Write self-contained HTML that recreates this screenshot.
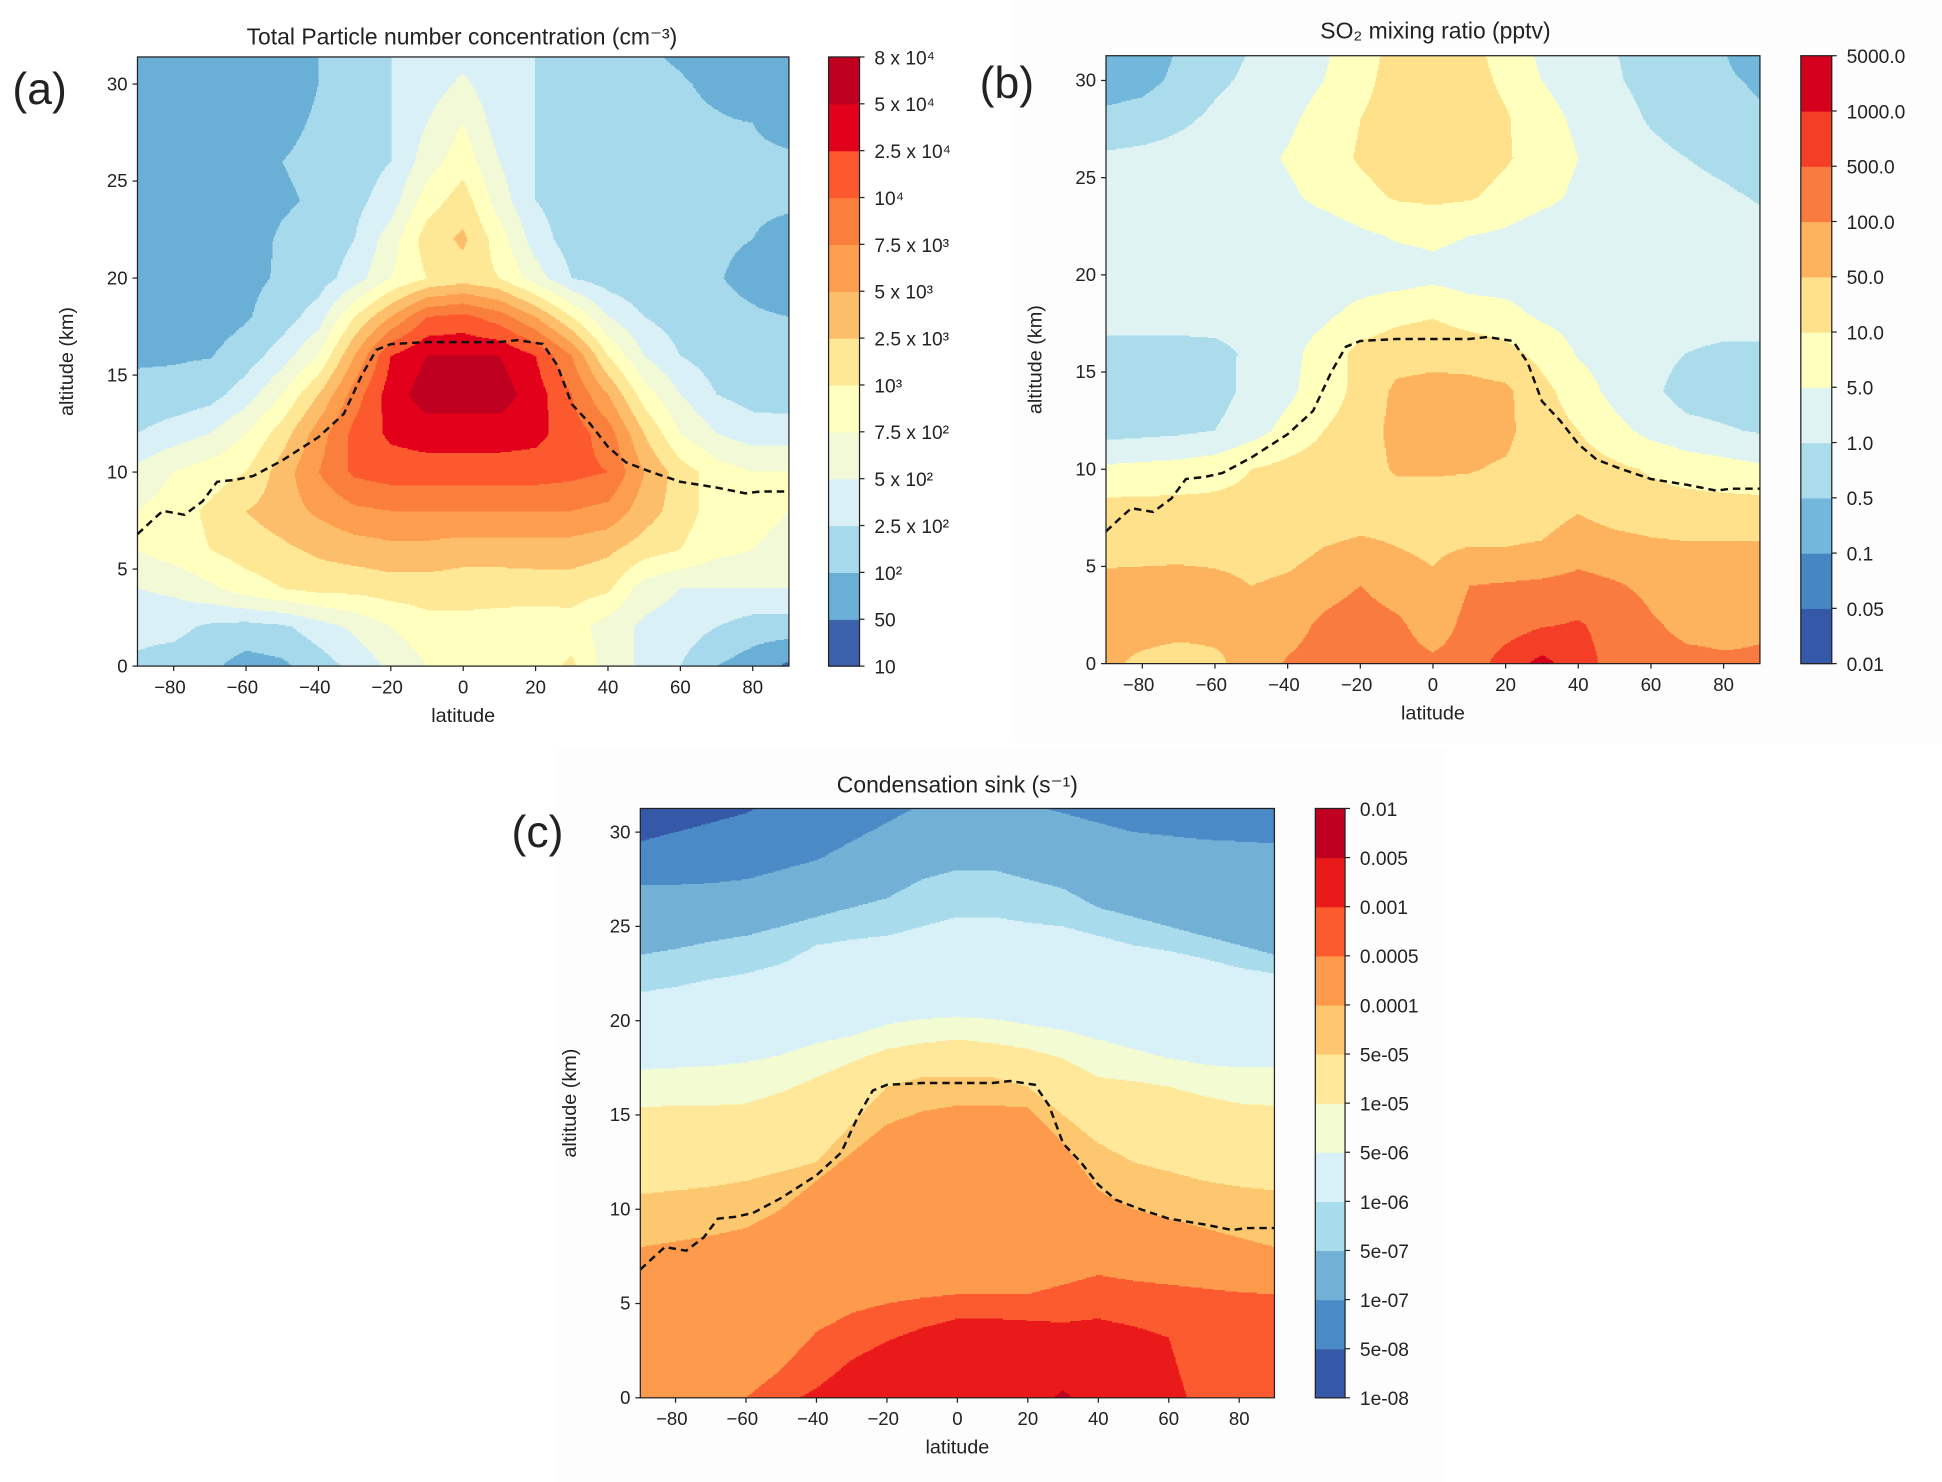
<!DOCTYPE html>
<html><head><meta charset="utf-8"><title>Aerosol latitude-altitude panels</title>
<style>
html,body{margin:0;padding:0;background:#fff;}
svg{display:block;}
text{font-family:"Liberation Sans","DejaVu Sans",sans-serif;fill:#222;}
</style></head>
<body>
<svg id="fig" width="1942" height="1482" viewBox="0 0 1568 1197" preserveAspectRatio="none" xmlns="http://www.w3.org/2000/svg">
<rect x="0" y="0" width="1568" height="1197" fill="#fff"/>
<rect x="815" y="0" width="753" height="600" fill="#fdfdfd"/>
<rect x="448" y="605" width="720" height="592" fill="#fdfdfd"/>
<g id="pa"></g>
<g id="pb"></g>
<g id="pc"></g>
</svg>
<script>
const NS = "http://www.w3.org/2000/svg";
// ---- shared axes data ----
const lats = [-90,-80,-70,-60,-50,-40,-30,-20,-10,0,10,20,30,40,50,60,70,80,90];
const alts = [0,2,4,6,8,10,12,14,16,18,20,22,24,26,28,30,32];
const xTicks = [-80,-60,-40,-20,0,20,40,60,80];
const yTicks = [0,5,10,15,20,25,30];
// ---- panel a: band index (continuous) per grid point, rows = alts ascending ----
const gridA = [
[2.8,2.5,2.2,1.6,1.8,2.5,3.3,4.2,5,5.3,5.4,5.5,6.2,4.5,3.8,3,2,1.5,0.8],
[3.3,3.3,2.8,2.6,2.8,3.5,4.2,5,5.6,5.7,5.6,5.4,5.5,4.5,3.8,3.5,3,2.5,2.5],
[4,4.2,4.8,5.5,6,6.3,6.3,6.5,6.5,6.4,6.4,6.5,6.5,6.2,4.5,4,4,4,4],
[5,5.5,6,6.5,6.8,7.2,7.5,7.7,7.7,7.5,7.5,7.5,7.5,7.2,6.5,6,5.3,5,4.8],
[5,5.5,6.2,7,7.5,8.2,8.8,9,9,9,9,9,9,8.7,7.5,6.5,5.5,5.2,5],
[4.3,5,5.5,6,7.5,9,10.2,10.5,10.5,10.5,10.5,10.5,10.3,10,8,6.5,5.5,5,5],
[3,3.5,4,5,6.5,8.5,10.3,11.2,11.5,11.5,11.5,11.3,10.5,9.5,7,5,4,3.5,3.5],
[2.2,2.3,2.6,3.5,5,7,9.5,11.5,12.5,12.5,12.5,11.5,10,8,5.5,4,3,2.6,2.5],
[1.9,1.9,1.95,2.5,3.5,5,8,11,12,12,12,11,9,6,4,3,2.5,2.2,2.2],
[1.4,1.4,1.5,1.9,2.5,3.5,6,8,10,10.3,9.5,8,6,4,3,2.5,2.2,2.1,2],
[1.3,1.3,1.4,1.8,2.1,2.5,3.5,5,6,6.5,6,4.5,3,2.5,2.2,2.1,2.05,1.8,1.5],
[1.3,1.3,1.4,1.7,2.1,2.3,3,4.5,6.5,7.2,5.5,3.5,2.5,2.2,2.1,2.1,2.1,2,1.8],
[1.3,1.3,1.4,1.6,1.9,2.1,2.7,3.5,5.5,6.5,4.5,3,2.5,2.2,2.1,2.1,2.1,2.1,2.1],
[1.3,1.3,1.4,1.6,2,2.2,2.5,3,4.5,5.6,4,3,2.5,2.2,2.1,2.1,2.1,2.1,2.1],
[1.3,1.3,1.4,1.5,1.8,2.1,2.3,3,4,5,3.5,3,2.3,2.2,2.1,2.1,2.05,2,1.8],
[1.2,1.3,1.3,1.4,1.6,2,2.2,3,3.5,4.2,3.3,3,2.2,2.1,2.1,2.05,1.9,1.7,1.5],
[0.95,1.1,1.2,1.3,1.5,2,2.1,3,3.2,3.5,3.2,3,2.1,2.1,2.05,1.9,1.6,1.4,1.2]
];
const levelsA = ["10","50","10²","2.5 x 10²","5 x 10²","7.5 x 10²","10³","2.5 x 10³","5 x 10³","7.5 x 10³","10⁴","2.5 x 10⁴","5 x 10⁴","8 x 10⁴"];
// ---- panel b ----
const gridB = [
[7.2,6.8,6.5,6.8,7.4,8.1,8.4,8.6,8.4,8.2,8.4,9.5,10.3,9.5,8.6,8.3,8.2,8.1,8.1],
[7.3,7.4,7.4,7.3,7,7.6,8.2,8.5,8.2,7.5,8.3,8.5,8.9,9.1,8.6,8.1,7.8,7.8,7.9],
[7.5,7.5,7.6,7.4,7,7.2,7.6,8,7.5,7.2,8,8.1,8.2,8.3,8.1,7.8,7.5,7.4,7.3],
[6.4,6.5,6.5,6.5,6.5,6.6,7,7.2,7,6.8,7,7,7.1,7.6,7.4,7.2,7.1,7.1,7.1],
[6.3,6.3,6.3,6.3,6.3,6.3,6.4,6.5,6.6,6.6,6.6,6.5,6.5,6.9,6.5,6.4,6.4,6.4,6.4],
[5.2,5.3,5.4,5.6,6,6.3,6.5,6.6,7.1,7.1,7.05,6.9,6.6,6.5,6.2,5.9,5.6,5.4,5.2],
[3.6,3.7,3.8,4,4.6,5.3,6,6.5,7.3,7.3,7.3,7.2,6.5,6,5.3,4.7,4.3,4.1,3.9],
[3.5,3.5,3.5,3.6,4.3,4.8,5.5,6.3,7.2,7.3,7.3,7.2,6.3,5.5,4.7,4.2,3.6,3.5,3.5],
[3.6,3.6,3.6,3.7,4.2,4.7,5.4,6.3,6.6,6.7,6.6,6.3,5.7,4.9,4.5,4.3,4,3.8,3.8],
[4.5,4.5,4.5,4.5,4.5,4.6,4.8,5.3,5.7,5.9,5.5,5.3,4.8,4.6,4.5,4.5,4.5,4.5,4.5],
[4.5,4.5,4.5,4.5,4.5,4.5,4.5,4.5,4.5,4.7,4.5,4.5,4.5,4.5,4.5,4.5,4.5,4.5,4.5],
[4.4,4.4,4.4,4.4,4.4,4.4,4.4,4.8,5.1,5.2,5,4.8,4.4,4.4,4.4,4.4,4.4,4.4,4.4],
[4.3,4.3,4.3,4.3,4.3,4.8,5.3,5.7,6.1,6.2,6.1,5.7,5.3,4.8,4.4,4.4,4.4,4.2,3.9],
[4.2,4.3,4.4,4.5,4.6,5.1,5.6,6.1,6.5,6.6,6.5,6.1,5.6,5,4.5,4.3,4,3.7,3.3],
[3.2,3.4,3.8,4.2,4.5,4.8,5.4,6,6.5,6.6,6.5,6.1,5.4,4.8,4.4,3.9,3.5,3.3,3.1],
[2.6,2.7,3.2,3.8,4.2,4.5,5,5.7,6.4,6.5,6.4,5.8,5,4.5,4.1,3.7,3.3,3.1,2.9],
[2.5,2.5,3,3.5,4,4.5,4.8,5.5,6.3,6.5,6.3,5.5,4.7,4.3,4,3.7,3.3,3,2.5]
];
const levelsB = ["0.01","0.05","0.1","0.5","1.0","5.0","10.0","50.0","100.0","500.0","1000.0","5000.0"];
// ---- panel c: altitude (km) of each contour level per latitude ----
const cL1 = [29.5,30,30.5,31,32,33,34,35,35,35,35,35,34,33,33,32.5,32,31.5,31.2];
const cL2 = [27.2,27.2,27.3,27.5,28,28.5,29.5,30.5,31.5,32,32,31.5,31,30.5,30,29.8,29.6,29.5,29.4];
const cL3 = [23.5,23.8,24.2,24.5,25,25.5,26,26.5,27.5,28,28,27.5,27,26,25.5,25,24.5,24,23.5];
const cL4 = [21.5,21.8,22.2,22.5,23,24,24.3,24.5,25,25.5,25.5,25.2,25,24.5,24,23.7,23.3,22.8,22.5];
const cL5 = [17.4,17.5,17.6,17.8,18.2,18.8,19.2,19.8,20.1,20.2,20.1,19.8,19.5,19,18.5,18,17.7,17.5,17.5];
const cL6 = [15.4,15.5,15.5,15.6,16.2,17,17.8,18.5,18.8,19,18.8,18.5,18,17,16.8,16.5,16,15.6,15.5];
const cL7 = [10.8,11,11.2,11.5,12,12.5,14.5,16.5,17,17,17,16.5,15,13.5,12.5,12,11.5,11.2,11];
const cL8 = [8,8.3,8.6,9,10,11.5,13,14.5,15.2,15.5,15.5,15.4,13.5,11,10,9.5,9,8.5,8];
const cL9 = [-3,-2,-1,0,1.5,3.5,4.5,5,5.3,5.5,5.5,5.5,6,6.5,6.2,6,5.8,5.6,5.5];
const cL10 = [-6,-5,-4,-3,-0.5,0.5,2,3,3.7,4.2,4.2,4.1,4,4.2,3.8,3.2,-3,-4,-5];
const cL11 = [-5,-5,-5,-5,-5,-5,-5,-5,-5,-5,-5,-1,0.4,-1,-5,-5,-5,-5,-5];
const levelsC = ["1e-08","5e-08","1e-07","5e-07","1e-06","5e-06","1e-05","5e-05","0.0001","0.0005","0.001","0.005","0.01"];
// ---- tropopause (dashed) ----
const tropLat = [-90,-86,-83,-80,-77,-72,-68,-63,-58,-50,-40,-33,-28,-24,-20,-10,0,10,15,22,26,30,35,40,45,52,60,70,78,82,90];
const tropAlt = [6.8,7.5,8,7.9,7.8,8.5,9.5,9.6,9.8,10.6,11.8,13,15,16.3,16.6,16.7,16.7,16.7,16.8,16.6,15.5,13.5,12.5,11.3,10.5,10,9.5,9.2,8.9,9,9];

// ---- palettes (bottom band first) ----
const palA = ["#3b62aa","#6aafd6","#a5d9eb","#d9f1f6","#f1f9d7","#ffffbf","#fee795","#fdbe6c","#fd9e4f","#fb7f3c","#fc5a2e","#e2001a","#bf0020"];
const palB = ["#3558a8","#4686c4","#72b8dc","#aadcec","#def3f2","#ffffbe","#ffe08b","#fdb25e","#fa7b3f","#f53e26","#d5001e"];
const palC = ["#3559a8","#4a8ac7","#73b0d6","#a8dcec","#d8f1f8","#f2fbd2","#ffe89a","#fdc770","#fd9a4c","#fc5a2f","#ea1a1a","#c00020"];

function interp(xs,ys,x){
  if(x<=xs[0])return ys[0];if(x>=xs[xs.length-1])return ys[ys.length-1];
  let i=0;while(xs[i+1]<x)i++;const f=(x-xs[i])/(xs[i+1]-xs[i]);return ys[i]+(ys[i+1]-ys[i])*f;
}
function gridValue(grid,lat,alt){
  let fi=(lat+90)/10;fi=Math.max(0,Math.min(lats.length-1.0001,fi));
  let fj=alt/2;fj=Math.max(0,Math.min(alts.length-1.0001,fj));
  const i=Math.floor(fi),j=Math.floor(fj),u=fi-i,v=fj-j;
  return grid[j][i]*(1-u)*(1-v)+grid[j][i+1]*u*(1-v)+grid[j+1][i]*(1-u)*v+grid[j+1][i+1]*u*v+1e-6;
}
const cLevels=[cL1,cL2,cL3,cL4,cL5,cL6,cL7,cL8,cL9,cL10,cL11];
function cBand(lat,alt){
  let n=0;for(const L of cLevels){if(interp(lats,L,lat)>alt)n++;}return n;
}

function mk(tag,parent){const e=document.createElementNS(NS,tag);parent.appendChild(e);return e;}

function drawPanel(g,P,bandFn,colors,levels,title,letter){
  const nb=colors.length;
  const xs=lat=>P.l+(lat+90)/180*(P.r-P.l);
  const ys=alt=>P.y0-alt*P.km;
  const field=mk("g",g);
  
  
  field.setAttribute('shape-rendering','crispEdges');
  for(let y=P.t;y<P.b;y+=1){
    const alt=(P.y0-(y+0.5))/P.km;
    let runStart=P.l,runBand=-1;
    for(let x=P.l;x<=P.r;x+=1){
      let band=-2;
      if(x<P.r){const lat=-90+(x+0.5-P.l)/(P.r-P.l)*180;band=bandFn(lat,alt);band=Math.max(0,Math.min(nb-1,band));}
      if(band!==runBand){
        if(runBand>=0){
          const rc=mk("rect",field);
          
          
          rc.setAttribute('x',runStart);rc.setAttribute('y',y);rc.setAttribute('width',x-runStart);rc.setAttribute('height',1.1);rc.setAttribute('fill',colors[runBand]);
        }
        runStart=x;runBand=band;
      }
    }
  }
  const path=mk("path",g);
  
  
  path.setAttribute('d',tropLat.map((la,i)=>(i?"L":"M")+xs(la).toFixed(1)+","+ys(tropAlt[i]).toFixed(1)).join(""));
  path.setAttribute('fill','none');path.setAttribute('stroke','#111');path.setAttribute('stroke-width','2');path.setAttribute('stroke-dasharray','6,4');
  const fr=mk("rect",g);
  
  
  fr.setAttribute('x',P.l);fr.setAttribute('y',P.t);fr.setAttribute('width',P.r-P.l);fr.setAttribute('height',P.b-P.t);fr.setAttribute('fill','none');fr.setAttribute('stroke','#222');fr.setAttribute('stroke-width','1');
  for(const v of xTicks){
    const tl=mk("line",g);
    
    
    tl.setAttribute('x1',xs(v));tl.setAttribute('x2',xs(v));tl.setAttribute('y1',P.b);tl.setAttribute('y2',P.b+4);tl.setAttribute('stroke','#222');
    const tx=mk("text",g);
    
    
    tx.setAttribute('x',xs(v)-(v<0?3:0));tx.setAttribute('y',P.b+22);tx.setAttribute('text-anchor','middle');tx.setAttribute('font-size','15');
    tx.textContent=v<0?"\u2212"+(-v):String(v);
  }
  for(const v of yTicks){
    const tl=mk("line",g);
    
    
    tl.setAttribute('x1',P.l-4);tl.setAttribute('x2',P.l);tl.setAttribute('y1',ys(v));tl.setAttribute('y2',ys(v));tl.setAttribute('stroke','#222');
    const tx=mk("text",g);
    
    
    tx.setAttribute('x',P.l-8);tx.setAttribute('y',ys(v)+5);tx.setAttribute('text-anchor','end');tx.setAttribute('font-size','15');
    tx.textContent=String(v);
  }
  const xl=mk("text",g);
  
  
  xl.setAttribute('x',(P.l+P.r)/2);xl.setAttribute('y',P.b+45);xl.setAttribute('text-anchor','middle');xl.setAttribute('font-size','16');
  xl.textContent="latitude";
  const yl=mk("text",g);
  
  
  yl.setAttribute('transform','translate('+(P.l-52)+','+((P.t+P.b)/2)+') rotate(-90)');yl.setAttribute('text-anchor','middle');yl.setAttribute('font-size','16');
  yl.textContent="altitude (km)";
  const ti=mk("text",g);
  
  
  ti.setAttribute('x',P.tx);ti.setAttribute('y',P.ty);ti.setAttribute('text-anchor','middle');ti.setAttribute('font-size','18.5');
  ti.textContent=title;
  const le=mk("text",g);
  
  
  le.setAttribute('x',P.lx);le.setAttribute('y',P.ly);le.setAttribute('font-size','36');le.setAttribute('fill','#000');
  le.textContent=letter;
  const cb=mk("g",g);
  
  
  const bh=(P.b-P.t)/nb;
  for(let i=0;i<nb;i++){
    const r=mk("rect",cb);
    
    
    r.setAttribute('x',P.cx);r.setAttribute('y',P.b-(i+1)*bh);r.setAttribute('width',P.cw);r.setAttribute('height',bh+0.5);r.setAttribute('fill',colors[i]);
  }
  const cf=mk("rect",cb);
  
  
  cf.setAttribute('x',P.cx);cf.setAttribute('y',P.t);cf.setAttribute('width',P.cw);cf.setAttribute('height',P.b-P.t);cf.setAttribute('fill','none');cf.setAttribute('stroke','#222');
  levels.forEach((lab,i)=>{
    const yy=P.b-i*bh;
    const tl=mk("line",cb);
    
    
    tl.setAttribute('x1',P.cx+P.cw);tl.setAttribute('x2',P.cx+P.cw+4);tl.setAttribute('y1',yy);tl.setAttribute('y2',yy);tl.setAttribute('stroke','#222');
    const tx=mk("text",cb);
    
    
    tx.setAttribute('x',P.cx+P.cw+12);tx.setAttribute('y',yy+6);tx.setAttribute('font-size','15.5');
    tx.textContent=lab;
  });
}

drawPanel(document.getElementById('pa'),
  {l:111,r:637,t:46,b:538,y0:538,km:15.67,cx:669,cw:25,tx:373,ty:36,lx:10,ly:84},
  (lat,alt)=>Math.floor(gridValue(gridA,lat,alt)),palA,levelsA,"Total Particle number concentration (cm\u207B\u00B3)","(a)");
drawPanel(document.getElementById('pb'),
  {l:893,r:1421,t:45,b:536,y0:536,km:15.7,cx:1454,cw:25,tx:1159,ty:31,lx:791,ly:79},
  (lat,alt)=>Math.floor(gridValue(gridB,lat,alt)),palB,levelsB,"SO\u2082 mixing ratio (pptv)","(b)");
drawPanel(document.getElementById('pc'),
  {l:517,r:1029,t:653,b:1129,y0:1129,km:15.23,cx:1062,cw:24,tx:773,ty:640,lx:413,ly:684},
  (lat,alt)=>cBand(lat,alt),palC,levelsC,"Condensation sink (s\u207B\u00B9)","(c)");
</script>
</body></html>
